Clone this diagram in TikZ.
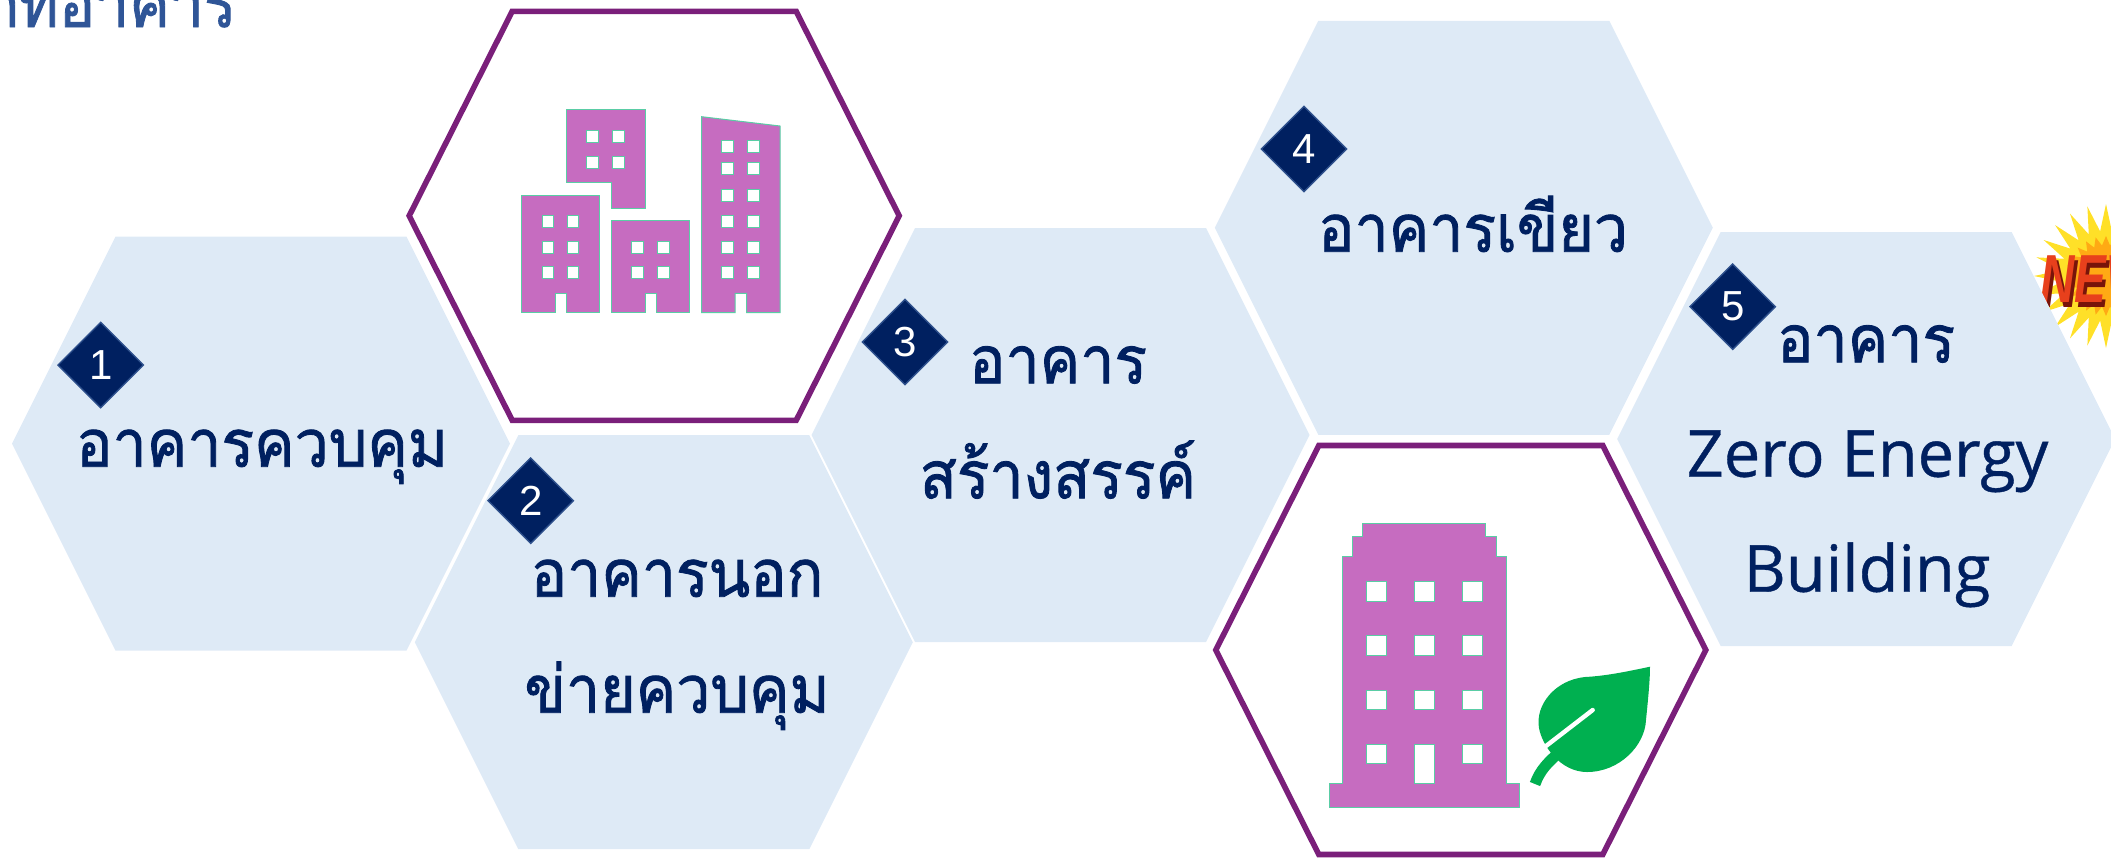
\documentclass[tikz,border=0pt]{standalone}
\usepackage{fontspec}
\usetikzlibrary{shapes.geometric}
\newfontfamily\thaifont[Script=Thai,FakeBold=1.3,FakeStretch=0.92]{Loma}
\newfontfamily\latinfont[FakeBold=0.6]{Open Sans}
\newfontfamily\numfont{Liberation Sans}
\newfontfamily\burstfont[FakeStretch=0.7]{Liberation Sans}

\definecolor{hexfill}{RGB}{222,234,246}
\definecolor{navy}{RGB}{0,32,96}
\definecolor{plum}{RGB}{122,31,122}
\definecolor{orchid}{RGB}{198,108,192}
\definecolor{mint}{RGB}{90,205,165}
\definecolor{leafgreen}{RGB}{0,176,80}
\definecolor{titleblue}{RGB}{47,85,151}
\definecolor{badgeedge}{RGB}{46,80,140}
\definecolor{burstyellow}{RGB}{255,224,40}
\definecolor{burstorange}{RGB}{255,170,20}
\definecolor{newred}{RGB}{232,64,28}
\definecolor{newshadow}{RGB}{120,20,10}

% light honeycomb cell: centre x, centre y
\newcommand\hexcell[2]{%
  \path[lighthex] ({#1-249},#2) -- ({#1-145.5},{#2-207}) -- ({#1+145.5},{#2-207})
    -- ({#1+249},#2) -- ({#1+145.5},{#2+207}) -- ({#1-145.5},{#2+207}) -- cycle;}
% white cell with a plum frame: centre x, centre y
\newcommand\framecell[2]{%
  \path[framehex] ({#1-245},#2) -- ({#1-142},{#2-204.5}) -- ({#1+142},{#2-204.5})
    -- ({#1+245},#2) -- ({#1+142},{#2+204.5}) -- ({#1-142},{#2+204.5}) -- cycle;}

\tikzset{
  lighthex/.style={fill=hexfill},
  framehex/.style={fill=white, draw=plum, line width=2.8pt, line join=miter},
  bldg/.style={fill=orchid, draw=mint, line width=0.5pt},
  win/.style={fill=white, draw=mint, line width=0.5pt},
  numbadge/.style={diamond, fill=navy, draw=badgeedge, line width=0.7pt,
    minimum width=43pt, minimum height=43pt, inner sep=0pt, text=white,
    font=\numfont\fontsize{21}{21}\selectfont},
  thaitext/.style={anchor=base, inner sep=0pt, text=navy,
    font=\thaifont\fontsize{33}{33}\selectfont},
  latintext/.style={anchor=base, inner sep=0pt, text=navy,
    font=\latinfont\fontsize{32.5}{32.5}\selectfont},
  newletters/.style={anchor=west, inner sep=0pt,
    font=\burstfont\bfseries\itshape\fontsize{34}{34}\selectfont},
}

\begin{document}
\begin{tikzpicture}[x=0.5pt, y=-0.5pt]
\useasboundingbox (0,0) rectangle (2111,859);
\clip (0,0) rectangle (2111,859);

% heading
\node[anchor=base east, inner sep=0pt, text=titleblue,
  font=\thaifont\fontsize{33}{33}\selectfont] (title) at (237,27) {ประเภทอาคาร};

% NEW starburst, partly under cell 5
\node[star, star points=24, star point ratio=1.6, fill=burstyellow, minimum size=72pt, inner sep=0pt] (burst) at (2106,276) {};
\node[star, star points=24, star point ratio=1.3, fill=burstorange, minimum size=40pt, inner sep=0pt] (burstcore) at (2106,276) {};
\node[newletters, text=newshadow] (newshade) at (2043,284) {NEW};
\node[newletters, text=newred] (newtag) at (2040,279) {NEW};

% honeycomb
\hexcell{261}{443.7}
\hexcell{663.8}{642.2}
\hexcell{1060.5}{435}
\hexcell{1463.8}{227.8}
\hexcell{1866.2}{439}
\framecell{654.2}{215.8}
\framecell{1460.8}{650}

% city block icon
\path[bldg] (521.7,195) -- (599.3,195) -- (599.3,312.7) -- (566.7,312.7) -- (566.7,293.3)
  -- (555,293.3) -- (555,312.7) -- (521.7,312.7) -- cycle;
\foreach \wx in {542.3,567.3} \foreach \wy in {215,241,266.7}
  \path[win] (\wx,\wy) rectangle ++(11.5,12);
\path[bldg] (566.7,109.3) -- (645,109.3) -- (645,208.3) -- (611.7,208.3) -- (611.7,182.3)
  -- (566.7,182.3) -- cycle;
\foreach \wx in {586.7,612.7} \foreach \wy in {130,156.7}
  \path[win] (\wx,\wy) rectangle ++(11.5,12);
\path[bldg] (611.7,220.7) -- (689.3,220.7) -- (689.3,312.7) -- (656.7,312.7) -- (656.7,293.3)
  -- (645,293.3) -- (645,312.7) -- (611.7,312.7) -- cycle;
\foreach \wx in {631.7,657.7} \foreach \wy in {241,266.7}
  \path[win] (\wx,\wy) rectangle ++(11.5,12);
\path[bldg] (701.7,116.7) -- (780,126) -- (780,312.7) -- (746.7,312.7) -- (746.7,293.3)
  -- (735,293.3) -- (735,312.7) -- (701.7,312.7) -- cycle;
\foreach \wx in {721.7,747.7} \foreach \wy in {140,162.7,189,215,241,266.7}
  \path[win] (\wx,\wy) rectangle ++(11.5,12);

% green building icon
\path[bldg] (1362.7,523.3) -- (1485.7,523.3) -- (1485.7,536.7) -- (1496,536.7) -- (1496,556.7)
  -- (1506,556.7) -- (1506,783.3) -- (1519.3,783.3) -- (1519.3,807.7) -- (1329.3,807.7)
  -- (1329.3,783.3) -- (1342.7,783.3) -- (1342.7,556.7) -- (1352.7,556.7) -- (1352.7,536.7)
  -- (1362.7,536.7) -- cycle;
\foreach \wx in {1366.7,1414.3,1462} \foreach \wy in {581.7,635.7,690}
  \path[win] (\wx,\wy) rectangle ++(20,19.5);
\path[win] (1366.7,744) rectangle ++(20,19.5);
\path[win] (1462,744) rectangle ++(20,19.5);
\path[win] (1414.3,744) rectangle (1434.3,783.3);
% leaf
\fill[leafgreen] (1650,666.7) .. controls (1625,672) and (1605,676) .. (1585,677)
  .. controls (1555,680) and (1535,705) .. (1539,728)
  .. controls (1542,745) and (1560,772) .. (1587,772)
  .. controls (1620,772) and (1645,745) .. (1646,720)
  .. controls (1648,700) and (1650,680) .. (1650,666.7) -- cycle;
\draw[leafgreen, line width=5.5pt] (1535,784) .. controls (1540,770) and (1548,762) .. (1562,750);
\draw[white, line width=2.2pt, line cap=round] (1546,746) -- (1592.7,710);

% captions
\node[thaitext] (t1) at (262,466.7) {อาคารควบคุม};
\node[thaitext] (t2a) at (677,596.7) {อาคารนอก};
\node[thaitext] (t2b) at (677,712.7) {ข่ายควบคุม};
\node[thaitext] (t3a) at (1058,383.3) {อาคาร};
\node[thaitext] (t3b) at (1058,498.3) {สร้างสรรค์};
\node[thaitext] (t4) at (1473,251.7) {อาคารเขียว};
\node[thaitext] (t5a) at (1866,362.3) {อาคาร};
\node[latintext] (t5b) at (1867.5,476.7) {Zero Energy};
\node[latintext] (t5c) at (1867,591.7) {Building};

% step numbers
\node[numbadge] (n1) at (100.7,365) {1};
\node[numbadge] (n2) at (530.7,500.7) {2};
\node[numbadge] (n3) at (905,342) {3};
\node[numbadge] (n4) at (1304,149) {4};
\node[numbadge] (n5) at (1732.7,306.7) {5};
\end{tikzpicture}
\end{document}
